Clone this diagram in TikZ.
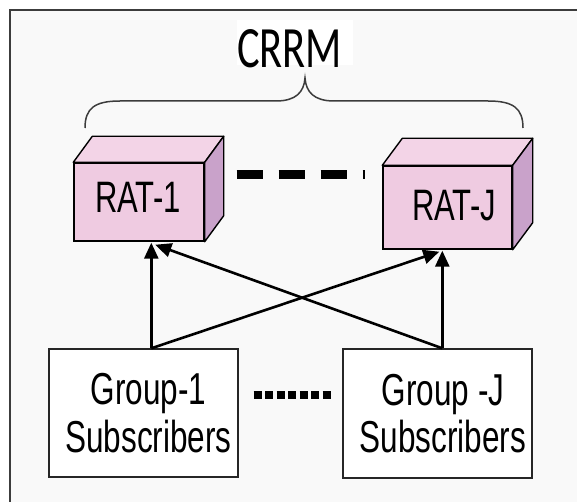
\documentclass[tikz,border=0pt]{standalone}
\usepackage{fontspec}
\setmainfont{Liberation Sans}
\newfontfamily\calibrifont{Carlito}
\usetikzlibrary{arrows.meta,calc}

\definecolor{framegray}{HTML}{3C3C3C}
\definecolor{paper}{HTML}{F9F9F9}
\definecolor{ratfront}{HTML}{EFCBE1}
\definecolor{rattop}{HTML}{F3D4E7}
\definecolor{ratside}{HTML}{C9A2CA}

% labels are set tall and narrow
\newcommand{\tallText}[1]{\scalebox{1}[1.42]{#1}}

\begin{document}
\begin{tikzpicture}[x=1pt,y=-1pt,
  ratface/.style={draw=black, line width=1.4pt, fill=ratfront, inner sep=0pt},
  ratlid/.style={draw=black, line width=1.4pt, fill=rattop, line join=round},
  ratwall/.style={draw=black, line width=1.4pt, fill=ratside, line join=round},
  rattext/.style={inner sep=0pt, font=\fontsize{31}{33}\selectfont},
  groupbox/.style={draw=black!85, line width=1.4pt, fill=white, minimum width=189pt, minimum height=128pt, inner sep=0pt},
  grouptext/.style={inner sep=0pt, font=\fontsize{31.5}{33.3}\selectfont},
  link/.style={line width=2.6pt, -{Triangle[length=16pt,width=14pt]}},
  ratdash/.style={line width=9pt, dash pattern=on 26pt off 16pt},
  groupdots/.style={line width=8pt, dash pattern=on 8.2pt off 3.3pt},
]
\useasboundingbox (0,0) rectangle (577,502);
\fill[white] (0,0) rectangle (577,502);
\fill[paper] (10,10) rectangle (577,502);
\draw[framegray, line width=2.5pt] (10,502) -- (10,10) -- (577,10);

% title and brace
\fill[white] (237,20) rectangle (353,65);
\node[inner sep=0pt] (crrm) at (289.5,48.5)
  {\calibrifont\fontsize{42.4}{44}\selectfont\scalebox{1}[1.38]{CRRM}};
\draw[framegray, line width=1.5pt]
  (85,128) .. controls (85,108) and (95,101) .. (120,101) -- (276,101)
  .. controls (296,101) and (304,92) .. (305,78)
  .. controls (306,92) and (314,101) .. (334,101) -- (488,101)
  .. controls (513,101) and (523,108) .. (523,128);

% RAT boxes
\node[ratface, minimum width=130pt, minimum height=78pt] (r1) at (139,202) {};
\draw[ratlid] (r1.north west) -- ++(19,-26) -- ($(r1.north east)+(19,-26)$) -- (r1.north east) -- cycle;
\draw[ratwall] (r1.north east) -- ++(19,-26) -- ($(r1.south east)+(19,-26)$) -- (r1.south east) -- cycle;
\node[rattext] (r1t) at ($(r1.center)+(-1,-4.5)$) {\tallText{RAT-1}};

\node[ratface, minimum width=129pt, minimum height=83pt] (rJ) at (447.5,207.5) {};
\draw[ratlid] (rJ.north west) -- ++(20,-27) -- ($(rJ.north east)+(20,-27)$) -- (rJ.north east) -- cycle;
\draw[ratwall] (rJ.north east) -- ++(20,-27) -- ($(rJ.south east)+(20,-27)$) -- (rJ.south east) -- cycle;
\node[rattext] (rJt) at ($(rJ.center)+(6.5,-1.5)$) {\tallText{RAT-J}};

\draw[ratdash] ($(r1.east)+(32,-27.5)$) -- ($(rJ.west)+(-17,-33)$);

% subscriber groups
\node[groupbox] (g1) at (143.5,413) {};
\node[grouptext] (g1t) at ($(g1.center)+(5,6)$)
  {\tallText{\begin{tabular}{@{}c@{}}Group-1\\Subscribers\end{tabular}}};
\node[groupbox, minimum height=129pt] (gJ) at (437.5,413.5) {};
\node[grouptext] (gJt) at ($(gJ.center)+(5.5,6)$)
  {\tallText{\begin{tabular}{@{}c@{}}Group -J\\Subscribers\end{tabular}}};

\draw[groupdots] ($(g1.east)+(15,-18)$) -- ($(gJ.west)+(-11,-18.5)$);

% access links
\coordinate (g1o) at ($(g1.north west)+(103,0)$);
\coordinate (gJo) at ($(gJ.north west)+(100,0)$);
\draw[link] (g1o) -- ($(r1.south west)+(78,1)$);
\draw[link] (g1o) -- ($(rJ.south west)+(57,2)$);
\draw[link] (gJo) -- ($(rJ.south west)+(60,1)$);
\draw[link] (gJo) -- ($(r1.south west)+(82,3)$);
\end{tikzpicture}
\end{document}
